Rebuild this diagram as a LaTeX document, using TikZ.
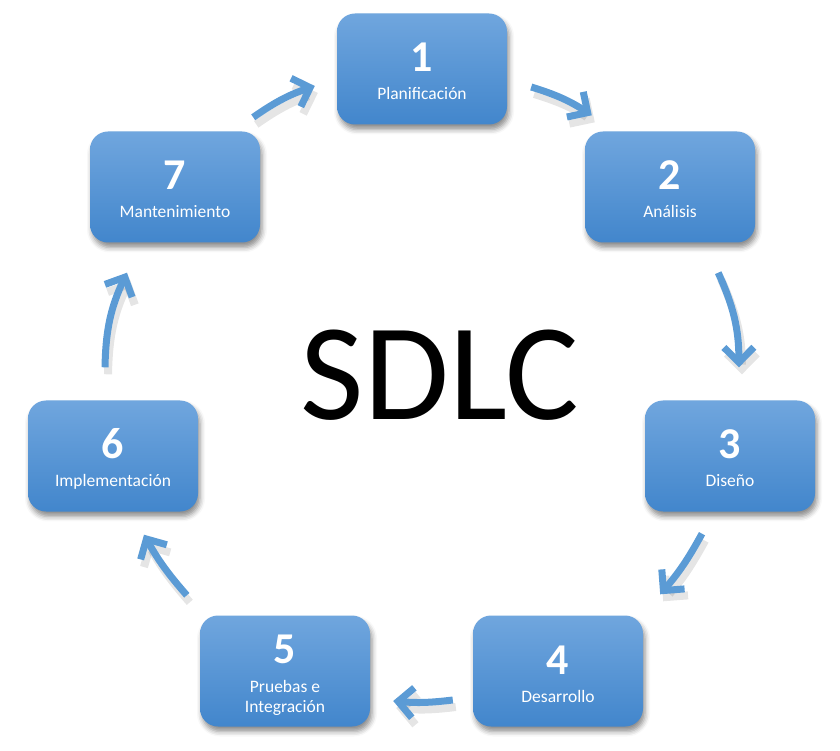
\documentclass[tikz,border=0pt]{standalone}
\usepackage{fontspec}
\setmainfont{Carlito}
\usetikzlibrary{positioning,calc,arrows.meta,shadows.blur}
\definecolor{stagetop}{RGB}{112,166,222}
\definecolor{stagebottom}{RGB}{66,134,204}
\definecolor{flowblue}{RGB}{91,155,213}
\tikzset{
  stage/.style={rectangle,rounded corners=18pt,minimum width=170pt,minimum height=111pt,
    inner sep=0pt,top color=stagetop,bottom color=stagebottom,
    blur shadow={shadow xshift=2pt,shadow yshift=-5pt,shadow blur radius=5pt,shadow opacity=45}},
  stagenum/.style={text=white,anchor=base,font=\fontsize{44}{44}\selectfont\bfseries},
  stagelbl/.style={text=white,anchor=base,align=center,font=\fontsize{17.5}{20}\selectfont},
  flow/.style={line width=7pt,draw=flowblue,-{Straight Barb[length=15pt,width=30pt]}},
  flowshadow/.style={line width=8pt,draw=black,opacity=.1,
    -{Straight Barb[length=15pt,width=30pt]},transform canvas={xshift=3pt,yshift=-7pt}}
}
\newcommand\flowarrow[3]{%
  \draw[flowshadow] #1 to[bend left=#3] #2;
  \draw[flow] #1 to[bend left=#3] #2;}

\begin{document}
\begin{tikzpicture}[x=1pt,y=1pt]
\useasboundingbox (0,0) rectangle (840,750);
% stages
\node[stage] (s1) at (422,681) {};
\node[stage] (s2) at (670,563) {};
\node[stage] (s3) at (730,294) {};
\node[stage] (s4) at (558,79) {};
\node[stage] (s5) at (285,79) {};
\node[stage] (s6) at (113,294) {};
\node[stage] (s7) at (175,563) {};
\node[stagenum] (n1) at ([yshift=-3pt]s1.center) {1};
\node[stagelbl] (l1) at ([yshift=-31pt]s1.center) {Planificación};
\node[stagenum] (n2) at ([yshift=-3pt]s2.center) {2};
\node[stagelbl] (l2) at ([yshift=-31pt]s2.center) {Análisis};
\node[stagenum] (n3) at ([yshift=-3pt]s3.center) {3};
\node[stagelbl] (l3) at ([yshift=-31pt]s3.center) {Diseño};
\node[stagenum] (n4) at ([yshift=-3pt]s4.center) {4};
\node[stagelbl] (l4) at ([yshift=-31pt]s4.center) {Desarrollo};
\node[stagenum] (n5) at ([yshift=8pt]s5.center) {5};
\node[stagelbl] (l5) at ([yshift=-41pt]s5.center) {Pruebas e\\Integración};
\node[stagenum] (n6) at ([yshift=-3pt]s6.center) {6};
\node[stagelbl] (l6) at ([yshift=-31pt]s6.center) {Implementación};
\node[stagenum] (n7) at ([yshift=-3pt]s7.center) {7};
\node[stagelbl] (l7) at ([yshift=-31pt]s7.center) {Mantenimiento};
% title
\node[font=\fontsize{138}{138}\selectfont] (title) at (440,375) {SDLC};
% arrows
\flowarrow{([shift={(-7,14)}]s7.north east)}{([shift={(-22,-17)}]s1.west)}{8}
\flowarrow{([shift={(24,-18)}]s1.east)}{([shift={(7,16)}]s2.north west)}{8}
\flowarrow{([shift={(-37,-30)}]s2.south east)}{([shift={(9,33)}]s3.north)}{12}
\flowarrow{([shift={(-28,-22)}]s3.south)}{([shift={(17,21)}]s4.north east)}{6}
\flowarrow{([shift={(-20,-29)}]s4.west)}{([shift={(23,-30)}]s5.east)}{6}
\flowarrow{([shift={(-13,20)}]s5.north west)}{([shift={(31,-23)}]s6.south)}{6}
\flowarrow{([shift={(-8,33)}]s6.north)}{([shift={(-48,-30)}]s7.south)}{12}
\end{tikzpicture}
\end{document}
